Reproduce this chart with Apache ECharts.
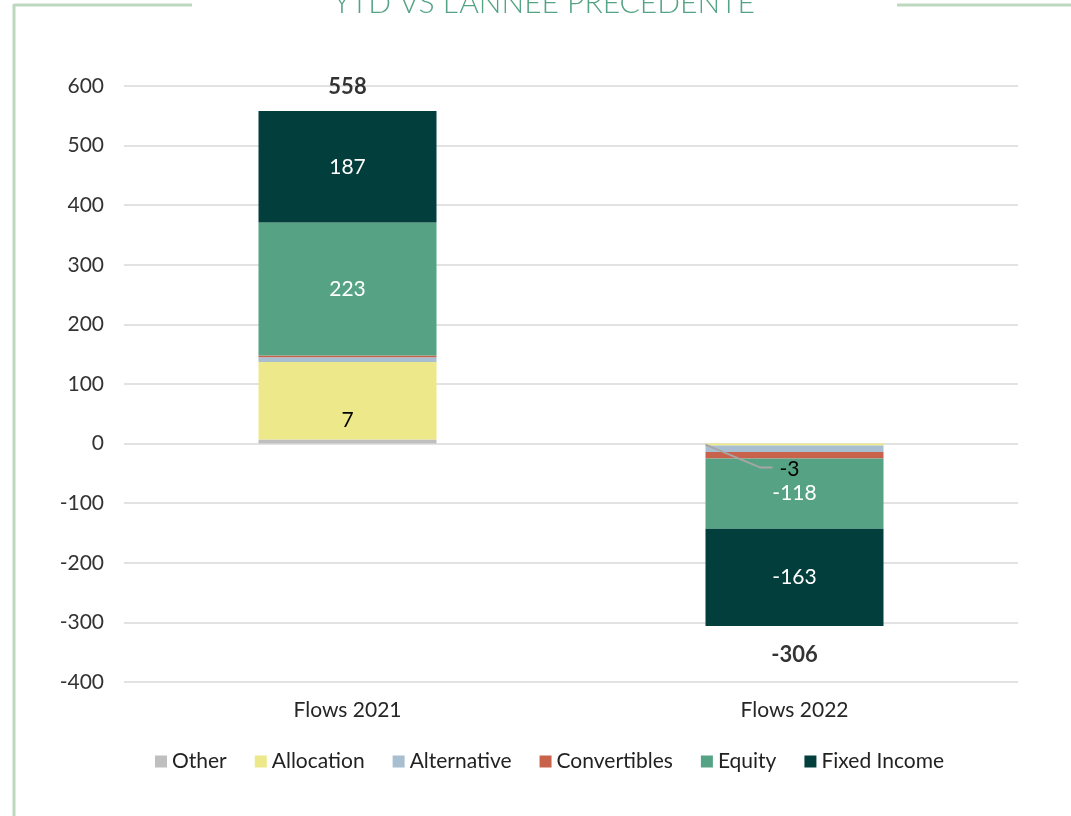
<!DOCTYPE html>
<html>
<head>
<meta charset="utf-8">
<script src="https://cdn.jsdelivr.net/npm/echarts@6/dist/echarts.min.js"></script>
<style>
  html, body { margin: 0; padding: 0; background: #fff; }
  #chart { width: 1071px; height: 816px; }
</style>
</head>
<body>
<div id="chart"></div>
<script>
  // flux par classe d'actifs
  var categories = ['Flows 2021', 'Flows 2022']
  var seriesNames = ['Other', 'Allocation', 'Alternative', 'Convertibles', 'Equity', 'Fixed Income']
  var other = [7, 0]
  var allocation = [130, -3]
  var alternative = [8, -11]
  var convertibles = [3, -11]
  var equity = [223, -118]
  var fixedIncome = [187, -163]
  var yTicks = [-400, -300, -200, -100, 0, 100, 200, 300, 400, 500, 600]

  var colors = ['#bfbfbf', '#ede98a', '#a7bfd0', '#c9624a', '#55a384', '#023e3c']
  var values = [other, allocation, alternative, convertibles, equity, fixedIncome]
  var barW = 178

  var totals = categories.map(function(c, i) {
    var s = 0
    for (var k = 0; k < values.length; k++) s += values[k][i]
    return s
  })

  function barSeries(idx) {
    return {
      name: seriesNames[idx],
      type: 'bar',
      stack: 'flows',
      barWidth: barW,
      itemStyle: { color: colors[idx] },
      data: values[idx].slice()
    }
  }

  var series = []
  for (var i = 0; i < seriesNames.length; i++) series.push(barSeries(i))

  // labels affichés (comme dans l'original)
  series[0].data[0] = {
    value: other[0],
    label: { show: true, position: 'top', distance: 9, color: '#000', fontFamily: 'Lato', fontSize: 21, formatter: '{c}' }
  }
  series[1].data[1] = {
    value: allocation[1],
    label: { show: true, position: 'bottom', distance: 13, offset: [-5, 0], color: '#000', fontFamily: 'Lato', fontSize: 21, formatter: '{c}' }
  }
  series[4].label = { show: true, position: 'inside', color: '#fff', fontFamily: 'Lato', fontSize: 21 }
  series[5].label = { show: true, position: 'inside', color: '#fff', fontFamily: 'Lato', fontSize: 21 }

  // totaux
  series.push({
    name: 'Total',
    type: 'scatter',
    symbolSize: 2,
    silent: true,
    itemStyle: { color: 'rgba(0,0,0,0)' },
    data: totals.map(function(t) {
      return {
        value: t,
        label: {
          show: true,
          position: t >= 0 ? 'top' : 'bottom',
          distance: t >= 0 ? 12 : 17,
          color: '#000',
          fontFamily: 'Lato',
          fontWeight: 'bold',
          fontSize: 22,
          formatter: '{c}'
        }
      }
    })
  })

  var chart = echarts.init(document.getElementById('chart'))
  var frame = [
    {
      type: 'text',
      left: 333,
      top: -12,
      style: {
        text: "YTD VS L'ANNÉE PRÉCÉDENTE",
        fill: '#55a385',
        font: '300 30px Lato'
      }
    },
    { type: 'line', shape: { x1: 14, y1: 5, x2: 192, y2: 5 }, style: { stroke: '#bcd9bf', lineWidth: 3 } },
    { type: 'line', shape: { x1: 897, y1: 5, x2: 1071, y2: 5 }, style: { stroke: '#bcd9bf', lineWidth: 3 } },
    { type: 'line', shape: { x1: 14, y1: 4, x2: 14, y2: 816 }, style: { stroke: '#bcd9bf', lineWidth: 3 } }
  ]
  var option = {
    backgroundColor: '#fff',
    animation: false,
    graphic: frame,
    legend: {
      data: seriesNames,
      left: 150,
      top: 746,
      icon: 'rect',
      itemWidth: 12,
      itemHeight: 12,
      itemGap: 28,
      textStyle: { fontFamily: 'Lato', fontSize: 21, color: '#222' }
    },
    grid: {
      left: 124,
      right: 53,
      top: 86,
      bottom: 134
    },
    xAxis: {
      type: 'category',
      data: categories,
      axisLine: { show: false },
      axisTick: { show: false },
      axisLabel: { color: '#262626', fontFamily: 'Lato', fontSize: 21, margin: 18 }
    },
    yAxis: {
      type: 'value',
      min: yTicks[0],
      max: yTicks[yTicks.length - 1],
      interval: 100,
      axisLine: { show: false },
      axisTick: { show: false },
      axisLabel: { color: '#333', fontFamily: 'Lato', fontSize: 21, margin: 20 },
      splitLine: { lineStyle: { color: '#d9d9d9', width: 1.5 } }
    },
    series: series
  }
  chart.setOption(option)

  // trait de rappel pour le label -3
  var zero = chart.convertToPixel({ gridIndex: 0 }, [1, 0])
  var x0 = zero[0] - barW / 2
  var ly = zero[1] + 24
  chart.setOption({
    graphic: frame.concat([{
      type: 'polyline',
      z: 100,
      shape: { points: [[x0, zero[1] + 1], [x0 + 55, ly], [x0 + 67, ly]] },
      style: { stroke: '#a6a6a6', lineWidth: 2, fill: null }
    }])
  })
</script>
</body>
</html>
